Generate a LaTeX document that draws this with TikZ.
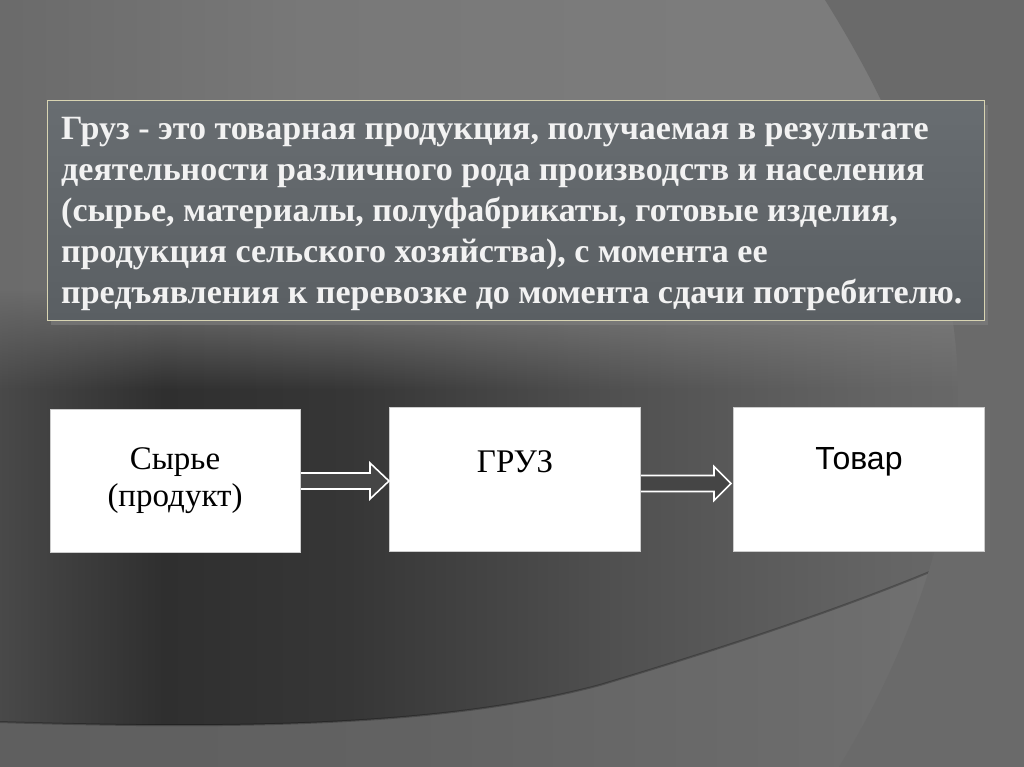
\documentclass[tikz,border=0pt]{standalone}
\usepackage{fontspec}
\setmainfont{Liberation Serif}
\newfontfamily\sansf{Liberation Sans}
\usetikzlibrary{calc,shadows,fadings}
\definecolor{boxtop}{HTML}{686D71}
\definecolor{boxbot}{HTML}{5A5F63}
\definecolor{boxedge}{HTML}{D8D4B2}
\definecolor{deftext}{HTML}{F2F2F2}
\definecolor{arrfill}{HTML}{454545}
\definecolor{rightdark}{HTML}{6A6A6A}
\definecolor{ca}{HTML}{585858}\definecolor{cb}{HTML}{666666}\definecolor{cc}{HTML}{787878}\definecolor{cd}{HTML}{7C7C7C}
\definecolor{da}{HTML}{3A3A3A}\definecolor{db}{HTML}{323232}\definecolor{dc}{HTML}{545454}\definecolor{dd}{HTML}{4C4C4C}
\definecolor{de}{HTML}{2F2F2F}\definecolor{df}{HTML}{363636}\definecolor{dg}{HTML}{505050}\definecolor{dh}{HTML}{646464}\definecolor{di}{HTML}{727272}
\definecolor{ba}{HTML}{666666}\definecolor{bb}{HTML}{5E5E5E}\definecolor{bc}{HTML}{626262}\definecolor{bd}{HTML}{6C6C6C}\definecolor{be}{HTML}{777777}
\pgfdeclarehorizontalshading{topband}{100bp}{color(0bp)=(ca); color(20bp)=(cb); color(40bp)=(cc); color(60bp)=(cd); color(100bp)=(cd)}
\pgfdeclarehorizontalshading{darkband}{100bp}{color(0bp)=(da); color(5bp)=(db); color(17bp)=(dc); color(24bp)=(dd); color(33bp)=(de); color(42bp)=(df); color(55bp)=(dg); color(68bp)=(dh); color(82bp)=(di); color(100bp)=(di)}
\pgfdeclarehorizontalshading{botband}{100bp}{color(0bp)=(ba); color(20bp)=(bb); color(45bp)=(bc); color(65bp)=(bd); color(80bp)=(be); color(100bp)=(be)}
\tikzfading[name=fadeup, top color=transparent!100, bottom color=transparent!0]
\tikzset{
  defbox/.style={draw=boxedge, line width=1.3pt, top color=boxtop, bottom color=boxbot,
    drop shadow={shadow xshift=3pt, shadow yshift=-4pt, opacity=.6},
    minimum width=937pt, minimum height=220pt, anchor=north west, inner sep=0pt},
  deffont/.style={font=\bfseries\fontsize{34}{41}\selectfont, text=deftext, align=left, anchor=north west, inner sep=0pt},
  flowbox/.style={draw=gray!40, line width=1pt, fill=white, minimum width=251pt, minimum height=144pt, anchor=north west, inner sep=0pt},
  flowtext/.style={font=\fontsize{33}{37}\selectfont, text=black, align=center, inner sep=0pt},
  hollow/.style={draw=white, line width=1.6pt, fill=arrfill, line join=miter},
}
\begin{document}
\begin{tikzpicture}[x=1pt,y=-1pt]
\useasboundingbox (0,0) rectangle (1024,767);
% background
\shade[shading=topband] (0,0) rectangle (1024,767);
\shade[shading=darkband, path fading=fadeup] (0,290) rectangle (1024,390);
\shade[shading=darkband] (0,389) rectangle (1024,724);
\shade[shading=botband] (0,722) .. controls (250,730) and (450,725) .. (600,685) .. controls (750,640) and (900,590) .. (1024,530) -- (1024,767) -- (0,767) -- cycle;
\draw[black, opacity=.25, line width=2pt] (0,722) .. controls (250,730) and (450,725) .. (600,685) .. controls (750,640) and (900,590) .. (1024,530);
\fill[rightdark] (825,0) .. controls (900,120) and (960,260) .. (958,400) .. controls (956,520) and (910,650) .. (839,767) -- (1024,767) -- (1024,0) -- cycle;

% definition box
\node[defbox] (def) at (47,100) {};
\node[deffont] (deftxt) at (61,117) {Груз - это товарная продукция, получаемая в результате\\
деятельности различного рода производств и населения\\
(сырье, материалы, полуфабрикаты, готовые изделия,\\
продукция сельского хозяйства), с момента ее\\
предъявления к перевозке до момента сдачи потребителю.};

% flow boxes
\node[flowbox, minimum width=250pt, minimum height=143pt] (syr) at (50,409) {};
\node[flowbox] (gruz) at (389,407) {};
\node[flowbox] (tovar) at (733,407) {};

\node[flowtext] (syrtxt) at (175,481) {Сырье\\(продукт)};
\node[flowtext] (gruztxt) at (515,462) {ГРУЗ};
\node[flowtext, font=\sansf\fontsize{32}{35}\selectfont] (tovartxt) at (859,462) {Товар};

% hollow arrows
\draw[hollow] let \p1=(syr.east), \p2=(gruz.west) in
  (\x1,\y1-8pt) -- (\x2-19pt,\y1-8pt) -- (\x2-19pt,\y1-18pt) -- (\x2,\y1) -- (\x2-19pt,\y1+18pt) -- (\x2-19pt,\y1+8pt) -- (\x1,\y1+8pt);
\draw[hollow] let \p1=(gruz.east), \p2=(tovar.west) in
  (\x1,\y1-12pt) -- (\x2-19pt,\y1-12pt) -- (\x2-19pt,\y1-21pt) -- (\x2-2pt,\y1-4pt) -- (\x2-19pt,\y1+13pt) -- (\x2-19pt,\y1+4pt) -- (\x1,\y1+4pt);
\end{tikzpicture}
\end{document}
